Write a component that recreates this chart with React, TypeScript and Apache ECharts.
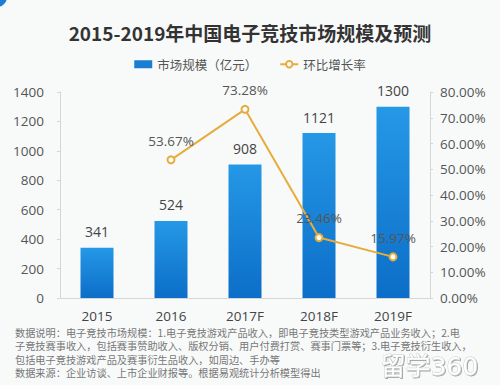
import React, { useEffect, useRef } from "react";
import * as echarts from "echarts";

const categories = ["2015", "2016", "2017F", "2018F", "2019F"];
const marketSize = [341, 524, 908, 1121, 1300];
const growthRate: (number | null)[] = [null, 53.67, 73.28, 23.46, 15.97];
const leftTicks = { min: 0, max: 1400, interval: 200 };
const rightTicks = { min: 0, max: 80, interval: 10 };
const titleText = "2015-2019年中国电子竞技市场规模及预测";
const barName = "市场规模（亿元）";
const lineName = "环比增长率";
const notes = [
  "数据说明：电子竞技市场规模：1.电子竞技游戏产品收入，即电子竞技类型游戏产品业务收入；2.电",
  "子竞技赛事收入，包括赛事赞助收入、版权分销、用户付费打赏、赛事门票等；3.电子竞技衍生收入，",
  "包括电子竞技游戏产品及赛事衍生品收入，如周边、手办等",
  "数据来源：企业访谈、上市企业财报等。根据易观统计分析模型得出",
];
const watermark = "留学360";

const FONT = "'Open Sans', 'Noto Sans CJK SC', sans-serif";
const CJK = "'Noto Sans CJK SC', sans-serif";

export default function App() {
  const ref = useRef<HTMLDivElement>(null);
  useEffect(() => {
    if (!ref.current) return;
    const chart = echarts.init(ref.current, null, { renderer: "svg" });
    const lineColor = "#E6AC3C";
    const noteStyle = { fontFamily: CJK, fontSize: 10.2, lineHeight: 13, fill: "#777" };
    chart.setOption({
      animation: false,
      backgroundColor: "#f8fafa",
      textStyle: { fontFamily: FONT },
      title: {
        text: titleText,
        left: "center",
        top: 18,
        textStyle: { fontFamily: CJK, fontSize: 19, fontWeight: "bold", color: "#333" },
      },
      legend: {
        top: 53,
        left: "center",
        itemWidth: 18,
        itemHeight: 8,
        itemGap: 22,
        textStyle: { fontFamily: CJK, fontSize: 12.5, color: "#555" },
        data: [
          { name: barName, icon: "rect", itemStyle: { color: "#1A7FD2" } },
          { name: lineName },
        ],
      },
      grid: { left: 60, right: 70, top: 92, bottom: 87 },
      xAxis: {
        type: "category",
        data: categories,
        axisLine: { lineStyle: { color: "#d6d6d6" } },
        axisTick: { show: false },
        axisLabel: { color: "#444", fontSize: 13.5, margin: 11, lineHeight: 14 },
      },
      yAxis: [
        {
          type: "value",
          min: leftTicks.min,
          max: leftTicks.max,
          interval: leftTicks.interval,
          axisLine: { show: true, lineStyle: { color: "#d6d6d6" } },
          axisTick: { show: true, length: 3, lineStyle: { color: "#d6d6d6" } },
          splitLine: { show: false },
          axisLabel: {
            color: "#555",
            fontSize: 13.5,
            margin: 16,
            formatter: (v: number) => String(v),
          },
        },
        {
          type: "value",
          min: rightTicks.min,
          max: rightTicks.max,
          interval: rightTicks.interval,
          position: "right",
          axisLine: { show: true, lineStyle: { color: "#d6d6d6" } },
          axisTick: { show: true, length: 3, lineStyle: { color: "#d6d6d6" } },
          splitLine: { show: false },
          axisLabel: {
            color: "#555",
            fontSize: 13.5,
            margin: 10,
            formatter: (v: number) => v.toFixed(2) + "%",
          },
        },
      ],
      series: [
        {
          name: barName,
          type: "bar",
          data: marketSize,
          barWidth: 33,
          itemStyle: {
            color: new echarts.graphic.LinearGradient(0, 0, 0, 1, [
              { offset: 0, color: "#2598E6" },
              { offset: 1, color: "#0C6EC8" },
            ]),
          },
          label: {
            show: true,
            position: "top",
            distance: 9,
            color: "#444",
            fontSize: 14,
          },
        },
        {
          name: lineName,
          type: "line",
          yAxisIndex: 1,
          data: growthRate,
          connectNulls: false,
          symbol: "emptyCircle",
          symbolSize: 7,
          lineStyle: { color: lineColor, width: 2 },
          itemStyle: { color: lineColor, borderWidth: 1.5 },
          label: {
            show: true,
            position: "top",
            distance: 8,
            color: "#555",
            fontSize: 13.5,
            formatter: (p: any) => Number(p.value).toFixed(2) + "%",
          },
        },
      ],
      graphic: [
        {
          type: "circle",
          shape: { cx: -3, cy: -3, r: 10 },
          style: { fill: "#1A7FD2" },
        },
        {
          type: "text",
          left: 15,
          top: 326,
          style: { ...noteStyle, text: notes.slice(0, 2).join("\n") },
        },
        {
          type: "text",
          left: 15,
          top: 352.5,
          style: { ...noteStyle, text: notes.slice(2).join("\n") },
        },
        {
          type: "text",
          left: 380,
          top: 353.5,
          style: {
            text: watermark,
            fontFamily: "'DejaVu Sans', 'Noto Sans CJK SC', sans-serif",
            fontSize: 25,
            lineHeight: 22,
            fill: "#ffffff",
            stroke: "#c4c4c4",
            lineWidth: 0.8,
            textShadowColor: "rgba(0,0,0,0.35)",
            textShadowOffsetX: 1,
            textShadowOffsetY: 1,
            textShadowBlur: 1,
          },
        },
      ],
    });
    return () => chart.dispose();
  }, []);
  return (
    <div
      ref={ref}
      style={{ position: "fixed", left: 0, top: 0, width: 500, height: 385 }}
    />
  );
}
